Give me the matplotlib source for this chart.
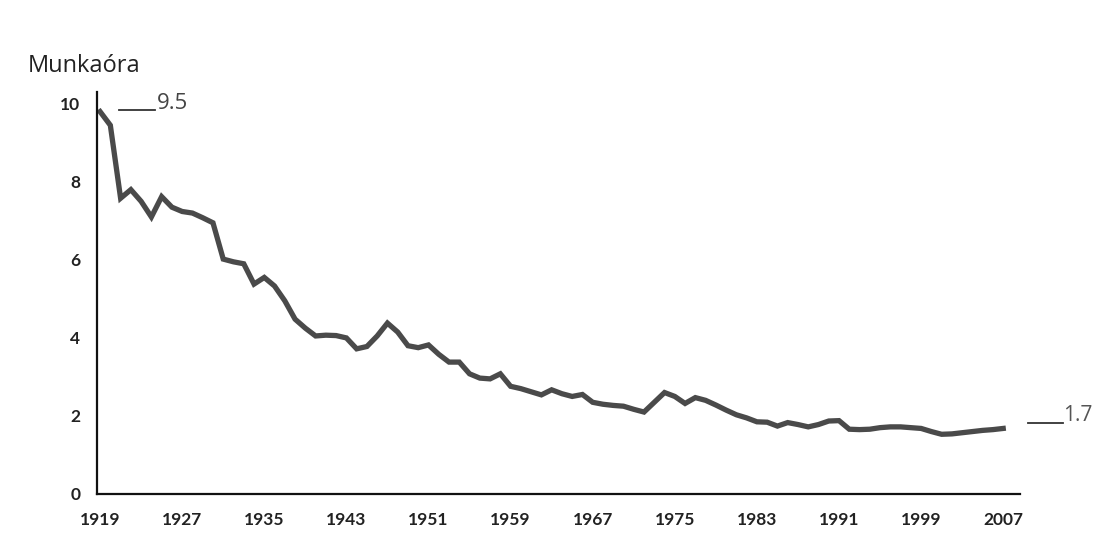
import matplotlib
matplotlib.use("Agg")
import matplotlib.pyplot as plt

years = list(range(1919, 2008))
hours = [
    9.80, 9.45, 7.58, 7.80, 7.50, 7.10, 7.62, 7.35, 7.24, 7.20,  # 1919-1928
    7.08, 6.95, 6.02, 5.95, 5.90, 5.38, 5.55, 5.33, 4.95, 4.48,  # 1929-1938
    4.25, 4.05, 4.07, 4.06, 4.00, 3.72, 3.78, 4.05, 4.38, 4.15,  # 1939-1948
    3.80, 3.75, 3.82, 3.58, 3.38, 3.38, 3.08, 2.97, 2.95, 3.08,  # 1949-1958
    2.76, 2.70, 2.62, 2.54, 2.67, 2.57, 2.50, 2.55, 2.35, 2.30,  # 1959-1968
    2.27, 2.25, 2.17, 2.10, 2.35, 2.60, 2.50, 2.32, 2.47, 2.40,  # 1969-1978
    2.28, 2.15, 2.03, 1.95, 1.85, 1.84, 1.74, 1.83, 1.78, 1.72,  # 1979-1988
    1.78, 1.87, 1.88, 1.66, 1.65, 1.66, 1.70, 1.72, 1.72, 1.70,  # 1989-1998
    1.68, 1.60, 1.53, 1.54, 1.57, 1.60, 1.63, 1.65, 1.68,        # 1999-2007
]
x_ticks = [1919, 1927, 1935, 1943, 1951, 1959, 1967, 1975, 1983, 1991, 1999, 2007]
y_ticks = [0, 2, 4, 6, 8, 10]
ylabel = "Munkaóra"
start_label = "9.5"
end_label = "1.7"

tick_font = "Lato"

fig = plt.figure(figsize=(11.01, 5.33), dpi=100)
ax = fig.add_axes([0.0881, 0.0732, 0.838, 0.754])

ax.plot(years, hours, color="#4a4a4a", lw=3.8, solid_joinstyle="miter")

ax.set_xlim(1918.7, 2008.6)
ax.set_ylim(0, 10.3)
ax.set_xticks(x_ticks)
ax.set_yticks(y_ticks)
ax.set_xticklabels([str(t) for t in x_ticks], fontfamily=tick_font,
                   fontsize=12.5, fontweight="bold", color="#222222")
ax.set_yticklabels([str(t) for t in y_ticks], fontfamily=tick_font,
                   fontsize=12.5, fontweight="bold", color="#222222")
ax.tick_params(axis="both", length=0)
ax.tick_params(axis="x", pad=13)
ax.tick_params(axis="y", pad=12)

for s in ["top", "right"]:
    ax.spines[s].set_visible(False)
for s in ["left", "bottom"]:
    ax.spines[s].set_linewidth(1.6)
    ax.spines[s].set_color("#111111")

fig.text(28 / 1101, 1 - 66 / 533, ylabel, fontsize=17, fontfamily="Open Sans",
         color="#222222", va="center", ha="left")

# Start annotation
ax.plot([1920.8, 1924.4], [9.83, 9.83], color="#333333", lw=1.3, clip_on=False)
ax.text(1924.5, 9.75, start_label, fontsize=16, fontfamily="Open Sans",
        color="#444444", va="bottom", ha="left")

# End annotation
ax.plot([2009.4, 2012.8], [1.82, 1.82], color="#333333", lw=1.3, clip_on=False)
ax.text(2012.8, 1.74, end_label, fontsize=15, fontfamily="Open Sans",
        color="#555555", va="bottom", ha="left", clip_on=False)

fig.savefig("out.png", dpi=100)
